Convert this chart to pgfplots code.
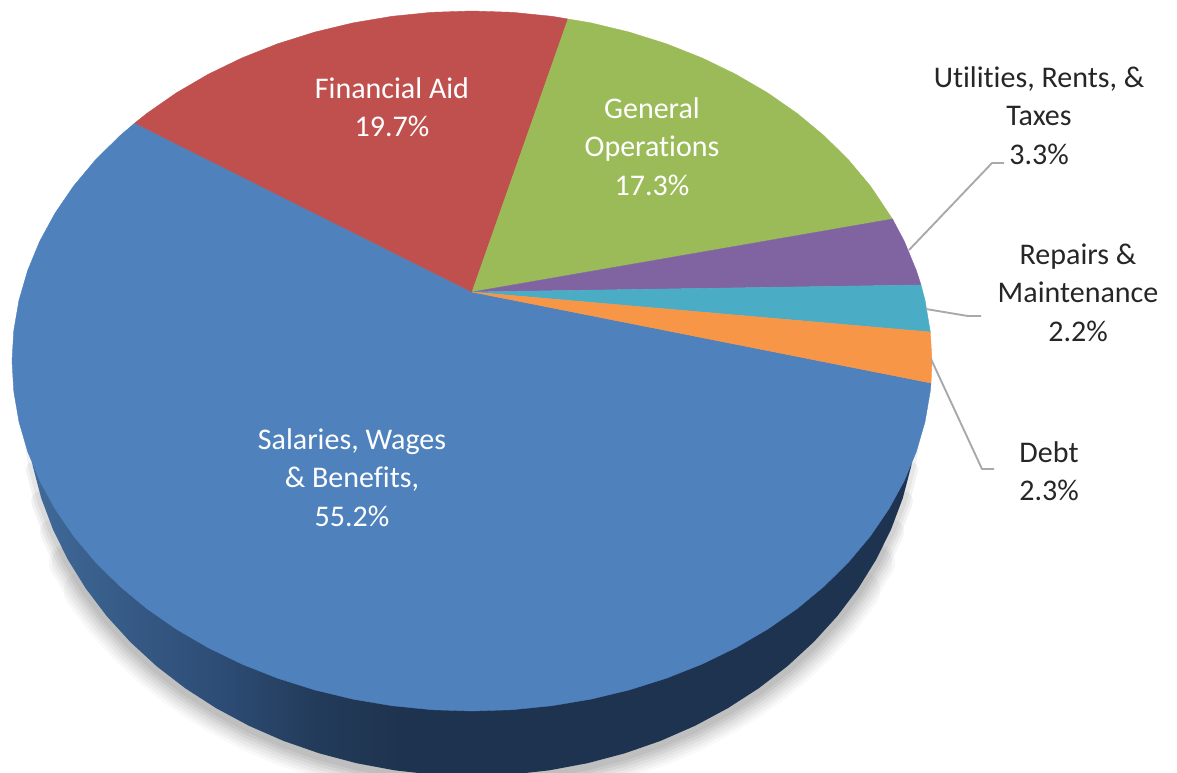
\documentclass[border=0pt]{standalone}
\usepackage{pgfplots}
\pgfplotsset{compat=1.18}
\usepackage{pgfplotstable}
\usepackage{fontspec}
\setmainfont[Ligatures=NoCommon]{Carlito}
\definecolor{cblue}{HTML}{4F81BD}
\definecolor{cred}{HTML}{C0504D}
\definecolor{cgreen}{HTML}{9BBB59}
\definecolor{cpurple}{HTML}{8064A2}
\definecolor{cteal}{HTML}{4BACC6}
\definecolor{corange}{HTML}{F79646}
\definecolor{cleader}{HTML}{A9A9AD}
\definecolor{ctext}{HTML}{262626}
\definecolor{sa}{HTML}{416B9A}
\definecolor{sb}{HTML}{375C88}
\definecolor{sc}{HTML}{2D4C75}
\definecolor{sd}{HTML}{233C5B}
\definecolor{se}{HTML}{1E334F}
\pgfdeclarehorizontalshading{sideshade}{100bp}{
  color(0bp)=(sa);
  color(25bp)=(sa);
  color(30bp)=(sb);
  color(36bp)=(sc);
  color(41bp)=(sd);
  color(46bp)=(se);
  color(100bp)=(se)}
\pgfplotstableread{
x y
918 401
916.3 433.7
911.2 466.1
902.8 498.1
891.1 529.3
876.2 559.5
858.2 588.5
837.3 616.1
813.7 642
787.4 666.2
758.7 688.3
727.8 708.2
695 725.8
660.5 740.9
624.5 753.4
587.4 763.2
549.4 770.3
510.9 774.6
472 776
433.1 774.6
394.6 770.3
356.6 763.2
319.5 753.4
283.5 740.9
249 725.8
216.2 708.2
185.3 688.3
156.6 666.2
130.3 642
106.7 616.1
85.8 588.5
67.8 559.5
52.9 529.3
41.2 498.1
32.8 466.1
27.7 433.7
26 401
}\lowerrim
\begin{document}
\begin{tikzpicture}
\useasboundingbox (0,0) rectangle (1177pt,772pt);
\begin{axis}[
  at={(0,0)}, anchor=south west,
  scale only axis, width=1177pt, height=772pt,
  xmin=0, xmax=1177, ymin=0, ymax=772, y dir=reverse,
  hide axis,
  /tikz/line join=round,
  every axis plot/.append style={mark=none},
]
% soft shadow
\addplot[draw=black, opacity=0.025, line cap=round, line width=44pt, yshift=-3pt, skip coords between index={0}{6}, skip coords between index={31}{37}] table {\lowerrim};
\addplot[draw=black, opacity=0.03, line cap=round, line width=38pt, yshift=-3pt, skip coords between index={0}{5}, skip coords between index={32}{37}] table {\lowerrim};
\addplot[draw=black, opacity=0.035, line cap=round, line width=32pt, yshift=-3pt, skip coords between index={0}{5}, skip coords between index={32}{37}] table {\lowerrim};
\addplot[draw=black, opacity=0.04, line cap=round, line width=26pt, yshift=-3pt, skip coords between index={0}{4}, skip coords between index={33}{37}] table {\lowerrim};
\addplot[draw=black, opacity=0.05, line cap=round, line width=20pt, yshift=-3pt, skip coords between index={0}{3}, skip coords between index={34}{37}] table {\lowerrim};
\addplot[draw=black, opacity=0.05, line cap=round, line width=14pt, yshift=-3pt, skip coords between index={0}{2}, skip coords between index={35}{37}] table {\lowerrim};
\addplot[draw=black, opacity=0.05, line cap=round, line width=8pt, yshift=-3pt, skip coords between index={0}{1}, skip coords between index={36}{37}] table {\lowerrim};
% pie side
\addplot[draw=none, shading=sideshade] table {\lowerrim} --cycle;
% Salaries
\addplot[fill=cblue, draw=cblue, line width=0.4pt] coordinates {
(472,292) (134.8,123) (119.6,136) (95.2,160.2) (73.6,186) (55.1,213.1) (39.7,241.3) (27.7,270.4) (19,300.2) (13.8,330.5) (12,361)
(13.8,391.5) (19,421.8) (27.7,451.6) (39.7,480.7) (55.1,508.9) (73.6,536) (95.2,561.8) (119.6,586) (146.7,608.5) (176.3,629.1) (208.2,647.7) (242,664.1) (277.6,678.2) (314.7,689.9) (352.9,699.1) (392.1,705.7) (431.9,709.7) (472,711)
(512.1,709.7) (551.9,705.7) (591.1,699.1) (629.3,689.9) (666.4,678.2) (702,664.1) (735.8,647.7) (767.7,629.1) (797.3,608.5) (824.4,586) (848.8,561.8) (870.4,536) (888.9,508.9) (904.3,480.7) (916.3,451.6) (925,421.8) (930.2,391.5) (931,383)
} --cycle;
% Financial Aid
\addplot[fill=cred, draw=cred, line width=0.4pt] coordinates {
(472,292) (568,19) (551.9,16.3) (512.1,12.3) (472,11) (431.9,12.3) (392.1,16.3) (352.9,22.9) (314.7,32.1) (277.6,43.8) (242,57.9) (208.2,74.3) (176.3,92.9) (146.7,113.5) (134.8,123)
} --cycle;
% General Operations
\addplot[fill=cgreen, draw=cgreen, line width=0.4pt] coordinates {
(472,292) (892.5,219) (870.4,186) (848.8,160.2) (824.4,136) (797.3,113.5) (767.7,92.9) (735.8,74.3) (702,57.9) (666.4,43.8) (629.3,32.1) (591.1,22.9) (568,19)
} --cycle;
% Utilities
\addplot[fill=cpurple, draw=cpurple, line width=0.4pt] coordinates {
(472,292) (921,285) (916.3,270.4) (904.3,241.3) (892.5,219)
} --cycle;
% Repairs
\addplot[fill=cteal, draw=cteal, line width=0.4pt] coordinates {
(472,292) (930.3,332) (925,300.2) (921,285)
} --cycle;
% Debt
\addplot[fill=corange, draw=corange, line width=0.4pt] coordinates {
(472,292) (931,383) (932,361) (930.3,332)
} --cycle;
% leaders
\addplot[draw=cleader, line width=1.9pt] coordinates {(909,250) (992,163) (1004,163)};
\addplot[draw=cleader, line width=1.9pt] coordinates {(926,309) (968,316) (981,316)};
\addplot[draw=cleader, line width=1.9pt] coordinates {(931,359) (982,469) (994,469)};
% labels
\tikzset{lab/.style={align=center, font=\fontsize{30}{38.3}\selectfont, inner sep=0pt}}
\node[lab, text=white] at (392,107.5) {Financial Aid\\19.7\%};
\node[lab, text=white] at (652,146.5) {General\\Operations\\17.3\%};
\node[lab, text=white] at (352,477.5) {Salaries, Wages\\\& Benefits,\\55.2\%};
\node[lab, text=ctext] at (1039,115.5) {Utilities, Rents, \&\\Taxes\\3.3\%};
\node[lab, text=ctext] at (1078,292.5) {Repairs \&\\Maintenance\\2.2\%};
\node[lab, text=ctext] at (1049,471.5) {Debt\\2.3\%};
\end{axis}
\end{tikzpicture}
\end{document}
